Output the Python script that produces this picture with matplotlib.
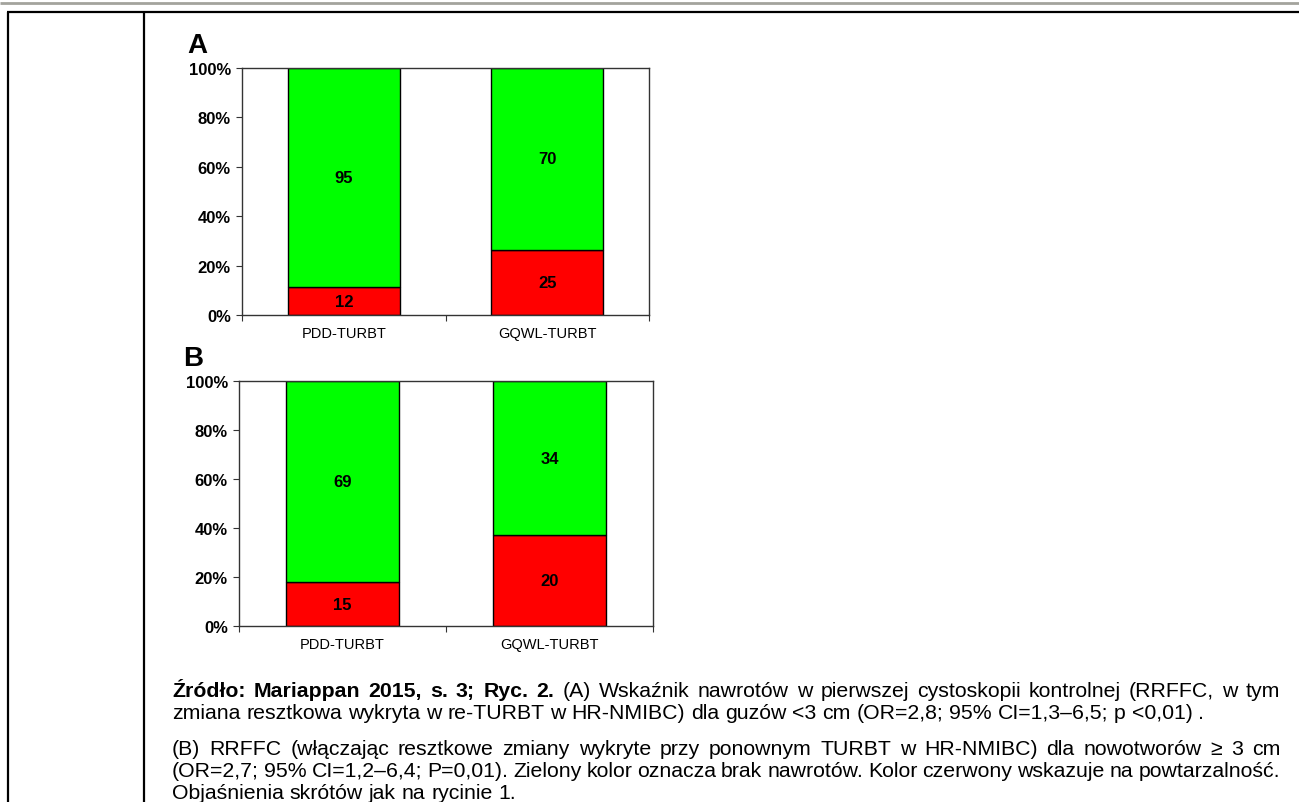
import numpy as np
import matplotlib.pyplot as plt

plt.rcParams['font.family'] = ['Liberation Sans', 'DejaVu Sans']

categories = ['PDD-TURBT', 'GQWL-TURBT']
# counts written in the bars: red = recurrence, green = no recurrence
a_recur = np.array([12, 25])
a_free = np.array([95, 70])
b_recur = np.array([15, 20])
b_free = np.array([69, 34])
y_ticks = [0, 20, 40, 60, 80, 100]
y_labels = ['0%', '20%', '40%', '60%', '80%', '100%']

caption = [
    ([('Źródło: Mariappan 2015, s. 3; Ryc. 2.', 'bold'),
      ('(A) Wskaźnik nawrotów w pierwszej cystoskopii kontrolnej (RRFFC, w tym', 'normal')], True),
    ([('zmiana resztkowa wykryta w re-TURBT w HR-NMIBC) dla guzów <3 cm (OR=2,8; 95% CI=1,3–6,5; p <0,01) .', 'normal')], False),
    ([('(B) RRFFC (włączając resztkowe zmiany wykryte przy ponownym TURBT w HR-NMIBC) dla nowotworów ≥ 3 cm', 'normal')], True),
    ([('(OR=2,7; 95% CI=1,2–6,4; P=0,01). Zielony kolor oznacza brak nawrotów. Kolor czerwony wskazuje na powtarzalność.', 'normal')], True),
    ([('Objaśnienia skrótów jak na rycinie 1.', 'normal')], False),
]
caption_y = [697, 719, 755, 777, 799]

W, H = 1299, 803
fig = plt.figure(figsize=(W / 100, H / 100), dpi=100)

# page frame drawn in pixel units
bg = fig.add_axes([0, 0, 1, 1])
bg.set_xlim(0, W)
bg.set_ylim(H, 0)
bg.axis('off')
bg.plot([0, W], [4, 4], color='#a3a39d', lw=2, solid_capstyle='butt')
bg.plot([7, W], [13, 13], color='black', lw=1.6, solid_capstyle='butt')
bg.plot([8, 8], [13, H], color='black', lw=1.6, solid_capstyle='butt')
bg.plot([144, 144], [13, H], color='black', lw=1.6, solid_capstyle='butt')


def px_axes(left, top, right, bottom):
    return fig.add_axes([left / W, 1 - bottom / H, (right - left) / W, (bottom - top) / H])


def stacked(ax, recur, free, letter):
    total = recur + free
    r = recur / total * 100
    g = free / total * 100
    x = np.arange(len(categories))
    ax.bar(x, r, width=0.55, color='#ff0000', edgecolor='black', linewidth=1)
    ax.bar(x, g, bottom=r, width=0.55, color='#00ff00', edgecolor='black', linewidth=1)
    for i in x:
        ax.text(i, r[i] / 2, str(recur[i]), ha='center', va='center',
                fontsize=12, fontweight='bold')
        ax.text(i, r[i] + g[i] / 2, str(free[i]), ha='center', va='center',
                fontsize=12, fontweight='bold')
    ax.set_xlim(-0.5, len(categories) - 0.5)
    ax.set_ylim(0, 100)
    ax.set_yticks(y_ticks)
    ax.set_yticklabels(y_labels, fontsize=12, fontweight='bold')
    ax.set_xticks(np.arange(len(categories) + 1) - 0.5)
    ax.set_xticklabels([])
    ax.set_xticks(x, minor=True)
    ax.set_xticklabels(categories, minor=True, fontsize=10.5)
    ax.tick_params(axis='x', which='minor', length=0, pad=8)
    ax.tick_params(axis='x', which='major', length=4, color='#333333')
    ax.tick_params(axis='y', length=4, pad=4, color='#333333')
    for s in ax.spines.values():
        s.set_color('#333333')
        s.set_linewidth(1)
    ax.text(-0.135, 1.065, letter, transform=ax.transAxes, fontsize=20,
            fontweight='bold', va='baseline', ha='left')


stacked(px_axes(242, 69, 649, 316), a_recur, a_free, 'A')
stacked(px_axes(239, 382, 653, 627), b_recur, b_free, 'B')

# caption, justified like the source page
renderer = fig.canvas.get_renderer()
left_x, right_x = 172, 1280
fs = 15.3


def text_width(s, weight='normal'):
    t = bg.text(0, 0, s, fontsize=fs, fontweight=weight)
    w = t.get_window_extent(renderer).width
    t.remove()
    return w


space = text_width('a a') - 2 * text_width('a')
for (segments, justify), y in zip(caption, caption_y):
    words = []
    for txt, weight in segments:
        words += [(w, weight) for w in txt.split(' ')]
    widths = [text_width(w, weight) for w, weight in words]
    if justify:
        gap = (right_x - left_x - sum(widths)) / (len(words) - 1)
    else:
        gap = space
    xpos = left_x
    for (w, weight), wd in zip(words, widths):
        bg.text(xpos, y, w, fontsize=fs, fontweight=weight, va='baseline', ha='left',
                clip_on=False)
        xpos += wd + gap

fig.savefig('out.png', dpi=100)
